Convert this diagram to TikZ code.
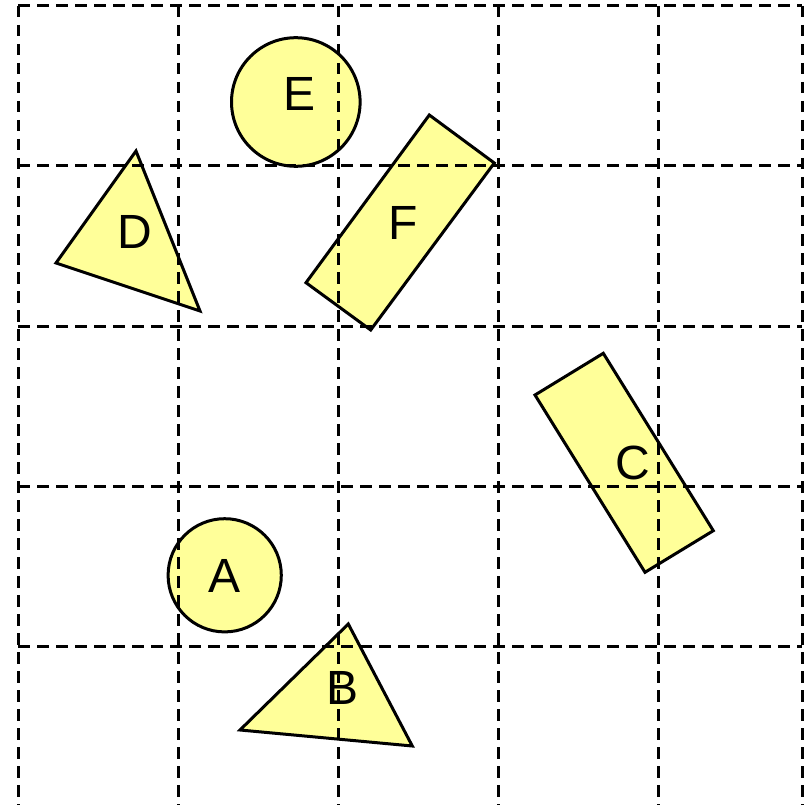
\documentclass[tikz,border=0pt]{standalone}
\usepackage{fontspec}
\setmainfont{Liberation Sans}
\definecolor{shapefill}{RGB}{255,255,153}
\begin{document}
\begin{tikzpicture}[x=1pt,y=-1pt,
  shapestyle/.style={draw=black,line width=3pt,fill=shapefill,line join=miter},
  gridline/.style={draw=black,line width=3pt,dash pattern=on 11.5pt off 7.5pt},
  lbl/.style={inner sep=0pt,font=\fontsize{48}{50}\selectfont}]
\useasboundingbox (0,0) rectangle (811,805);
% shapes
\draw[shapestyle] (295.8,102) circle (64.3);
\draw[shapestyle] (224.7,575.3) circle (56.6);
\draw[shapestyle] (136,151) -- (56,263) -- (200,311) -- cycle;
\draw[shapestyle] (348.3,624) -- (240,730) -- (412.3,746) -- cycle;
\draw[shapestyle] (429.3,115) -- (494.3,163) -- (370.7,330) -- (306,282.7) -- cycle;
\draw[shapestyle] (603.3,353.3) -- (713.3,530.7) -- (645,572.3) -- (535,395) -- cycle;
% labels
\node[lbl] (E) at (300,94) {E};
\node[lbl] (A) at (225,576) {A};
\node[lbl] (D) at (135,232) {D};
\node[lbl] (B) at (343,687.5) {B};
\node[lbl] (F) at (403,223) {F};
\node[lbl] (C) at (633,463) {C};
% grid on top
\foreach \gx in {18,178,338,498,658,802}
  \draw[gridline] (\gx,6) -- (\gx,805);
\foreach \gy in {6,166,326,486,646}
  \draw[gridline] (18,\gy) -- (802,\gy);
\end{tikzpicture}
\end{document}
